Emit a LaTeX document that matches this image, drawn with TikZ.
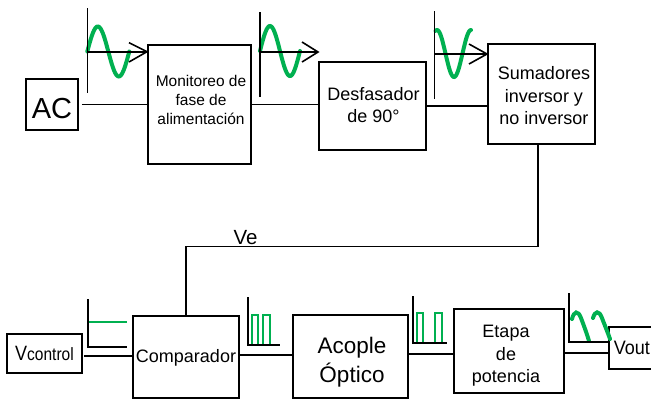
\documentclass[tikz,border=0pt]{standalone}
\usepackage{graphicx}
\usepackage{fontspec}
\setmainfont{Liberation Sans}
\definecolor{wgreen}{RGB}{0,176,80}
\tikzset{
  box/.style={draw, line width=1.6pt, inner sep=0pt},
  conn/.style={line width=1.6pt},
  axisline/.style={line width=1.6pt},
  wave/.style={draw=wgreen, line width=4pt, line cap=round},
  pulse/.style={draw=wgreen, line width=1.2pt},
  txt/.style={align=center, inner sep=0pt},
}
\begin{document}
\begin{tikzpicture}[x=1pt,y=-1pt]
\useasboundingbox (0,0) rectangle (651,400);
\clip (0,0) rectangle (651,400);

% ---------- boxes ----------
\node[box, minimum width=52pt, minimum height=51pt] (ac) at (52,104.5) {};
\node[txt, font=\fontsize{29}{29}\selectfont] (actxt) at ([yshift=-4pt]ac.center) {AC};

\node[box, minimum width=103pt, minimum height=119pt] (mon) at (199.5,104.5) {};
\node[txt, font=\fontsize{15.5}{19}\selectfont] (montxt) at ([xshift=1.5pt,yshift=4.9pt]mon.center) {Monitoreo de\\fase de\\alimentación};

\node[box, minimum width=107pt, minimum height=88pt] (des) at (372.5,106) {};
\node[txt, font=\fontsize{18}{22}\selectfont] (destxt) at ([xshift=1pt,yshift=0.5pt]des.center) {Desfasador\\de 90°};

\node[box, minimum width=107pt, minimum height=100pt] (sum) at (541.5,94) {};
\node[txt, font=\fontsize{18}{22.5}\selectfont] (sumtxt) at ([xshift=2.5pt,yshift=-2pt]sum.center) {Sumadores\\inversor y\\no inversor};

\node[box, minimum width=75pt, minimum height=39pt] (vc) at (44.5,353.5)
  {\scalebox{1}[1.15]{\fontsize{18}{18}\selectfont V\fontsize{15.5}{15.5}\selectfont control}};

\node[box, minimum width=106pt, minimum height=82pt] (comp) at (186,357) {};
\node[txt, font=\fontsize{18}{22}\selectfont] (comptxt) at ([yshift=-1.3pt]comp.center) {Comparador};

\node[box, minimum width=115pt, minimum height=83pt] (aco) at (350.5,356.5) {};
\node[txt, font=\fontsize{22.5}{29}\selectfont] (acotxt) at ([xshift=1.5pt,yshift=-5.2pt]aco.center) {Acople\\Óptico};

\node[box, minimum width=110pt, minimum height=84pt] (eta) at (509,351) {};
\node[txt, font=\fontsize{18}{22.5}\selectfont] (etatxt) at ([xshift=-3pt,yshift=-4.9pt]eta.center) {Etapa\\de\\potencia};

\node[box, anchor=west, minimum height=42pt, inner xsep=5pt, text width=60pt, align=left] (vout) at (608,348)
  {\scalebox{1}[1.08]{\fontsize{18}{18}\selectfont V\fontsize{18}{18}\selectfont out}};

% ---------- connectors ----------
\draw[conn] ([xshift=3pt]ac.east) -- (mon.west);
\draw[conn] (mon.east) -- (mon.east -| des.west);
\draw[conn] (des.east) -- (des.east -| sum.west);
\coordinate (vey) at (300,246.5);
\draw[conn] ([xshift=-3.5pt]sum.south) |- (vey) -| (comp.north);
\node[txt, font=\fontsize{20.5}{20.5}\selectfont, anchor=base] (ve) at (245.5,244) {Ve};

\coordinate (vcout) at ([xshift=1pt,yshift=-2.5pt]vc.east);
\draw[conn] (vcout) -- (vcout -| comp.west);
\coordinate (cpout) at ([yshift=2pt]comp.east);
\draw[conn] (cpout) -- (cpout -| aco.west);
\coordinate (acout) at ([yshift=2.5pt]aco.east);
\draw[conn] (acout) -- (acout -| eta.west);
\coordinate (etout) at ([yshift=-2pt]eta.east);
\draw[conn] (etout) -- (etout -| vout.west);

% ---------- waveform insets (top) ----------
\draw[wave] plot[domain=0:42, samples=60, smooth] ({87.3+\x},{51.5-25*sin(360*\x/42)});
\draw[axisline] (87.3,8) -- (87.3,93);
\draw[axisline] (87.3,51.7) -- (147,51.7);
\draw[axisline] (129,42.7) -- (147,51.7) -- (129,62);

\draw[wave] plot[domain=0:40, samples=60, smooth] ({260+\x},{51-25*sin(360*\x/40)});
\draw[axisline] (260,12) -- (260,97);
\draw[axisline] (260,52) -- (318,52);
\draw[axisline] (302,42) -- (318,52) -- (302,62);

\draw[wave] plot[domain=-1.5:34, samples=60, smooth] ({437+\x},{53.5-23.5*cos(360*\x/34)});
\draw[axisline] (434.3,11) -- (434.3,99);
\draw[axisline] (434.3,54) -- (487,54);
\draw[axisline] (469,44) -- (487,54) -- (469,64);

% ---------- waveform insets (bottom) ----------
\draw[pulse, line width=1.6pt] (88,321.7) -- (127,321.7);
\draw[axisline] (87.7,299) -- (87.7,347) -- (127,347);

\draw[pulse] (252,345) -- (252,315) -- (258,315) -- (258,345);
\draw[pulse] (263,345) -- (263,315) -- (270,315) -- (270,345);
\draw[axisline] (248,297) -- (248,345) -- (280,345);

\draw[pulse] (417,343) -- (417,313) -- (423,313) -- (423,343);
\draw[pulse] (435,343) -- (435,313) -- (442,313) -- (442,343);
\draw[axisline] (413,296) -- (413,343) -- (447,343);

\draw[wave] (572,319) .. controls (574,311) and (578,310) .. (581,318) .. controls (584,326) and (587,334) .. (589,341);
\draw[wave] (593,318) .. controls (595,311) and (599,310) .. (602,318) .. controls (605,326) and (608,333) .. (610,339);
\draw[axisline] (569,293) -- (569,342) -- (608,342);
\end{tikzpicture}
\end{document}
